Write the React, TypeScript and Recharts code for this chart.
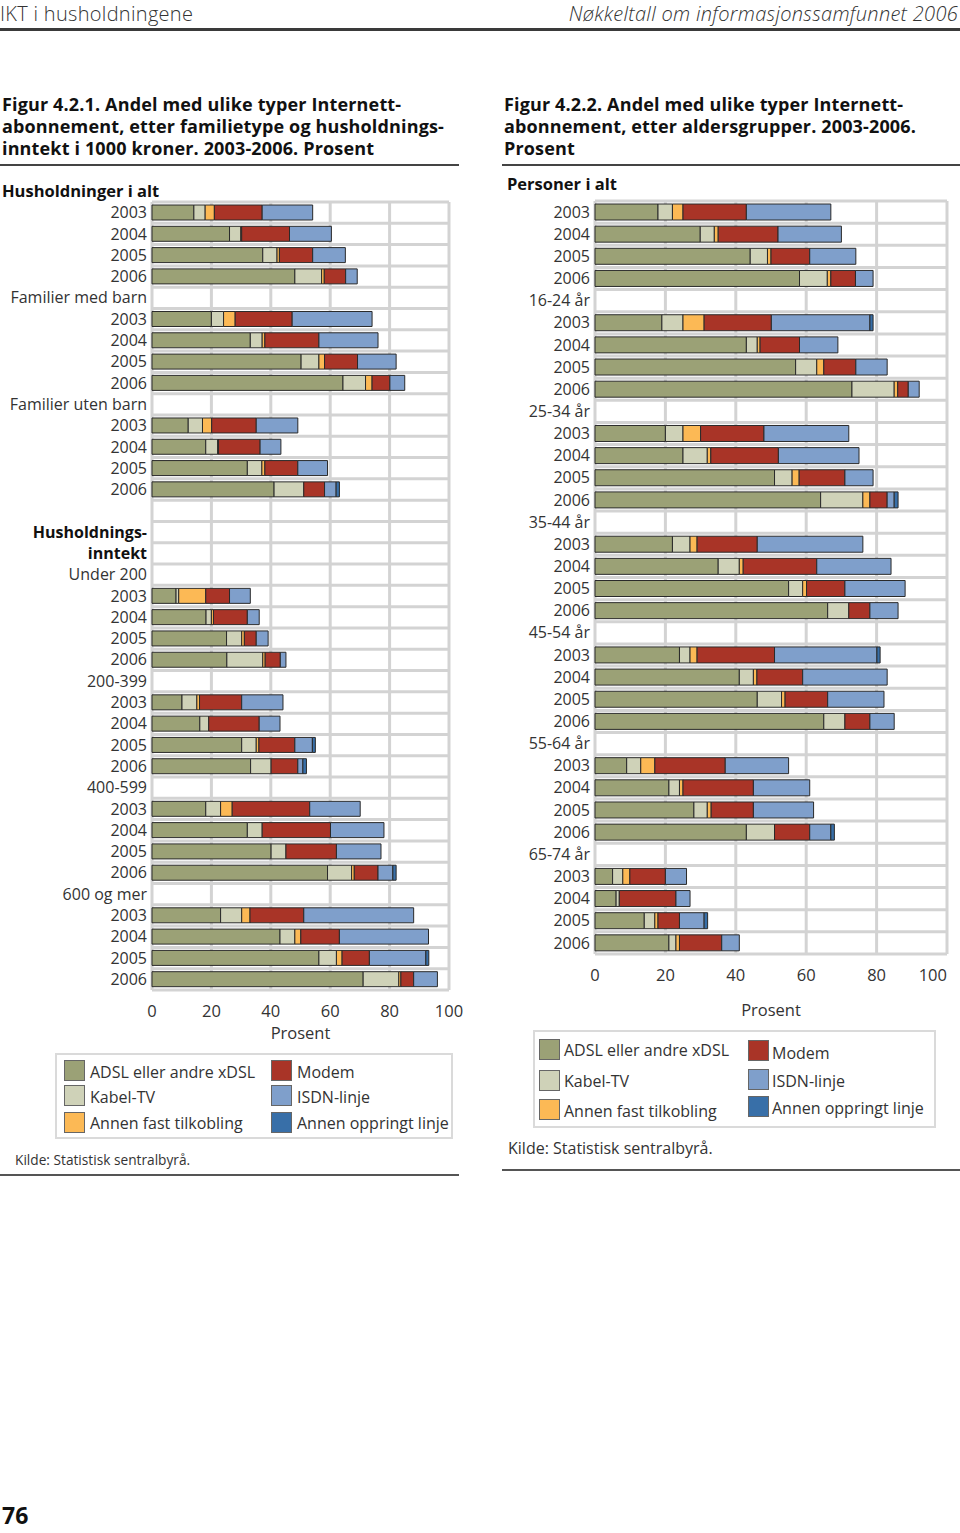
import React from 'react';
import { BarChart, Bar, XAxis, YAxis, CartesianGrid } from 'recharts';

const FONT = '"Open Sans", "Noto Sans", sans-serif';
const TEXT = '#333';

// series colours
const COLORS = {
  adsl: '#9ba176',
  kabel: '#cfd2b8',
  annenFast: '#fcb955',
  modem: '#a93427',
  isdn: '#7f9fcb',
  oppringt: '#386fa8',
};

const SERIES = [
  { key: 'adsl', name: 'ADSL eller andre xDSL' },
  { key: 'kabel', name: 'Kabel-TV' },
  { key: 'annenFast', name: 'Annen fast tilkobling' },
  { key: 'modem', name: 'Modem' },
  { key: 'isdn', name: 'ISDN-linje' },
  { key: 'oppringt', name: 'Annen oppringt linje' },
];

const xTicks = [0, 20, 40, 60, 80, 100];

// ---- Figur 4.2.1: familietype og husholdningsinntekt ----
const leftLabels = [
  '2003', '2004', '2005', '2006',
  'Familier med barn', '2003', '2004', '2005', '2006',
  'Familier uten barn', '2003', '2004', '2005', '2006',
  '', 'Husholdnings-', 'inntekt',
  'Under 200', '2003', '2004', '2005', '2006',
  '200-399', '2003', '2004', '2005', '2006',
  '400-599', '2003', '2004', '2005', '2006',
  '600 og mer', '2003', '2004', '2005', '2006',
];
const leftBold = ['Husholdnings-', 'inntekt'];

const leftAdsl = [14.1, 26.1, 37.3, 48.1, null, 20.0, 33.1, 50.2, 64.3, null, 12.2, 18.1, 32.1, 41.1, null, null, null, null, 8.1, 18.2, 25.1, 25.2, null, 10.1, 16.1, 30.2, 33.2, null, 18.1, 32.1, 40.1, 59.1, null, 23.1, 43.1, 56.2, 71.1];
const leftKabel = [3.8, 3.8, 4.8, 9.0, null, 4.1, 4.0, 6.0, 7.6, null, 4.8, 4.0, 4.9, 10.0, null, null, null, null, 0.9, 1.8, 5.1, 12.1, null, 5.0, 3.0, 4.9, 6.9, null, 5.0, 5.0, 5.0, 8.1, null, 7.1, 5.0, 5.9, 12.0];
const leftAnnenFast = [3.1, 0.3, 0.8, 0.9, null, 3.9, 0.9, 1.9, 2.2, null, 3.1, 0.3, 1.0, 0, null, null, null, null, 9.1, 0.7, 0.9, 0.8, null, 0.9, 0, 0.9, 0, null, 3.9, 0, 0, 0.9, null, 2.8, 2.0, 1.9, 0.7];
const leftModem = [16.1, 16.1, 11.2, 7.2, null, 19.2, 18.2, 11.1, 6.0, null, 15.0, 14.0, 11.1, 7.0, null, null, null, null, 8.0, 11.4, 4.0, 5.1, null, 14.2, 17.0, 12.1, 9.0, null, 26.1, 23.0, 17.0, 8.0, null, 18.1, 13.0, 9.2, 4.3];
const leftIsdn = [17.0, 14.1, 11.0, 3.9, null, 26.9, 19.9, 13.0, 5.0, null, 14.0, 7.0, 10.0, 3.9, null, null, null, null, 7.0, 4.0, 4.0, 1.9, null, 13.9, 7.0, 5.9, 1.7, null, 17.0, 18.0, 15.0, 5.0, null, 37.0, 30.0, 19.0, 8.0];
const leftOppringt = [0, 0, 0, 0, null, 0, 0, 0, 0, null, 0, 0, 0, 1.1, null, null, null, null, 0, 0, 0, 0, null, 0, 0, 1.0, 1.2, null, 0, 0, 0, 1.1, null, 0, 0, 1.0, 0];

// ---- Figur 4.2.2: aldersgrupper ----
const rightLabels = [
  '2003', '2004', '2005', '2006',
  '16-24 år', '2003', '2004', '2005', '2006',
  '25-34 år', '2003', '2004', '2005', '2006',
  '35-44 år', '2003', '2004', '2005', '2006',
  '45-54 år', '2003', '2004', '2005', '2006',
  '55-64 år', '2003', '2004', '2005', '2006',
  '65-74 år', '2003', '2004', '2005', '2006',
];

const rightAdsl = [17.9, 29.9, 44.1, 58.1, null, 19.0, 43.0, 57.0, 73.0, null, 20.0, 25.0, 51.0, 64.1, null, 22.0, 35.0, 55.0, 66.1, null, 24.0, 41.0, 46.1, 65.0, null, 9.0, 21.0, 28.1, 43.0, null, 5.0, 6.0, 14.0, 21.0];
const rightKabel = [4.1, 4.0, 4.9, 7.9, null, 6.0, 3.1, 6.0, 12.0, null, 5.0, 6.9, 5.0, 12.0, null, 5.0, 6.0, 4.0, 6.0, null, 3.0, 4.0, 6.9, 6.0, null, 4.0, 3.0, 3.8, 8.0, null, 2.9, 0.9, 3.0, 2.0];
const rightAnnenFast = [3.0, 1.1, 1.0, 1.0, null, 6.0, 0.8, 2.0, 1.0, null, 5.0, 1.0, 2.0, 2.0, null, 2.0, 1.1, 1.1, 0, null, 2.0, 1.0, 1.0, 0, null, 4.0, 1.0, 1.1, 0, null, 2.0, 0, 0.9, 1.0];
const rightModem = [18.0, 17.0, 11.0, 7.0, null, 19.1, 11.2, 9.1, 3.0, null, 18.0, 19.2, 13.0, 4.9, null, 17.1, 20.9, 10.9, 6.0, null, 22.0, 13.0, 12.1, 7.1, null, 20.0, 20.0, 12.0, 10.0, null, 10.1, 16.1, 6.1, 12.0];
const rightIsdn = [24.0, 18.0, 13.1, 5.0, null, 28.0, 10.9, 8.9, 3.1, null, 24.1, 22.9, 8.0, 2.0, null, 30.0, 21.1, 17.1, 8.0, null, 29.1, 24.0, 16.0, 6.9, null, 18.0, 16.0, 17.1, 6.0, null, 6.0, 4.0, 7.0, 5.0];
const rightOppringt = [0, 0, 0, 0, null, 0.9, 0, 0, 0, null, 0, 0, 0, 1.1, null, 0, 0, 0, 0, null, 0.9, 0, 0, 0, null, 0, 0, 0, 1.0, null, 0, 0, 1.0, 0];

function buildRows(labels, adsl, kabel, annenFast, modem, isdn, oppringt) {
  return labels.map((label, i) => ({
    key: i,
    label,
    adsl: adsl[i],
    kabel: kabel[i],
    annenFast: annenFast[i],
    modem: modem[i],
    isdn: isdn[i],
    oppringt: oppringt[i],
  }));
}

const leftRows = buildRows(leftLabels, leftAdsl, leftKabel, leftAnnenFast, leftModem, leftIsdn, leftOppringt);
const rightRows = buildRows(rightLabels, rightAdsl, rightKabel, rightAnnenFast, rightModem, rightIsdn, rightOppringt);

function StackedPanel({ rows, labels, bold = [], width, height, yWidth, barSize, marginRight, axisHeight, labelOffset, endLastTick }) {
  const n = rows.length;

  const YTick = ({ x, y, payload }) => {
    const label = labels[payload.value];
    const isBold = bold.includes(label);
    return (
      <text x={x + 5} y={y} dy="0.35em" textAnchor="end" fontFamily={FONT} fontSize={16}
        fontWeight={isBold ? 700 : 400} fill={isBold ? '#111' : TEXT}>
        {label}
      </text>
    );
  };

  const XTick = ({ x, y, payload }) => {
    const last = endLastTick && payload.value === 100;
    return (
      <text x={x} y={y} dy="0.71em" textAnchor={last ? 'end' : 'middle'}
        fontFamily={FONT} fontSize={16.5} fill={TEXT}>
        {payload.value}
      </text>
    );
  };

  return (
    <BarChart width={width} height={height} data={rows} layout="vertical"
      margin={{ top: 5, right: marginRight, bottom: 0, left: 0 }} barCategoryGap={0}>
      <CartesianGrid stroke="#d3d3d3" strokeWidth={3}
        horizontalCoordinatesGenerator={({ offset }) =>
          Array.from({ length: n + 1 }, (_, i) => offset.top + (i * offset.height) / n)
        }
      />
      <XAxis type="number" domain={[0, 100]} ticks={xTicks} axisLine={false} tickLine={false}
        tickMargin={9} height={axisHeight} tick={<XTick />} interval={0}
        label={{ value: 'Prosent', position: 'insideBottom', offset: labelOffset, fill: TEXT, fontSize: 16.5, fontFamily: FONT }} />
      <YAxis type="category" dataKey="key" width={yWidth} axisLine={false} tickLine={false}
        tick={<YTick />} interval={0} tickMargin={4} />
      {SERIES.map((s) => (
        <Bar key={s.key} dataKey={s.key} name={s.name} stackId="a" fill={COLORS[s.key]}
          stroke="#2a2a2a" strokeWidth={1} barSize={barSize} isAnimationActive={false} />
      ))}
    </BarChart>
  );
}

function LegendBox({ left, top, width, height, rowsY, textX, swatchX, swatchY }) {
  const cols = [SERIES.slice(0, 3), SERIES.slice(3)];
  return (
    <div style={{ position: 'absolute', left, top, width, height, border: '2px solid #dadada', boxSizing: 'border-box' }}>
      {cols.map((col, ci) =>
        col.map((s, ri) => (
          <React.Fragment key={s.key}>
            <div style={{
              position: 'absolute', left: swatchX[ci], top: swatchY[ci][ri], width: 21, height: 21,
              background: COLORS[s.key], border: '1px solid #666', boxSizing: 'border-box',
            }} />
            <div style={{
              position: 'absolute', left: textX[ci], top: rowsY[ci][ri] - 12, fontFamily: FONT,
              fontSize: 16, lineHeight: '24px', color: TEXT, whiteSpace: 'nowrap',
            }}>{s.name}</div>
          </React.Fragment>
        ))
      )}
    </div>
  );
}

const titleStyle: React.CSSProperties = {
  position: 'absolute', fontFamily: FONT, fontWeight: 700, fontSize: 18, lineHeight: '22px',
  color: '#111', whiteSpace: 'nowrap', letterSpacing: 0.15,
};

const headerStyle: React.CSSProperties = {
  position: 'absolute', top: 0, fontSize: 20, lineHeight: '27px', color: TEXT, fontWeight: 300, whiteSpace: 'nowrap',
};

export default function App() {
  return (
    <div style={{ position: 'absolute', left: 0, top: 0, width: 960, height: 1533, background: '#fff', fontFamily: FONT, overflow: 'hidden' }}>
      {/* running header */}
      <div style={{ ...headerStyle, left: 0, letterSpacing: 0.3 }}>IKT i husholdningene</div>
      <div style={{ ...headerStyle, right: 2, fontStyle: 'italic', letterSpacing: 0.3 }}>
        Nøkkeltall om informasjonssamfunnet 2006
      </div>
      <div style={{ position: 'absolute', left: 0, top: 28, width: 960, height: 3, background: '#3a3a3a' }} />

      {/* left figure */}
      <div style={{ ...titleStyle, left: 2, top: 93 }}>
        Figur 4.2.1. Andel med ulike typer Internett-<br />
        abonnement, etter familietype og husholdnings-<br />
        inntekt i 1000 kroner. 2003-2006. Prosent
      </div>
      <div style={{ position: 'absolute', left: 0, top: 164, width: 459, height: 2, background: '#444' }} />
      <div style={{ position: 'absolute', left: 2, top: 179, fontSize: 16.5, fontWeight: 700, color: '#111' }}>Husholdninger i alt</div>
      <div style={{ position: 'absolute', left: 0, top: 197 }}>
        <StackedPanel rows={leftRows} labels={leftLabels} bold={leftBold} width={480} height={848}
          yWidth={152} barSize={15} marginRight={31} axisHeight={55} labelOffset={6} endLastTick={false} />
      </div>
      <LegendBox left={55} top={1053} width={398} height={86}
        swatchX={[7, 214]} textX={[33, 240]}
        swatchY={[[5, 30, 57], [5, 30, 57]]}
        rowsY={[[17, 42, 68], [17, 42, 68]]} />
      <div style={{ position: 'absolute', left: 15, top: 1150, fontSize: 13.7, color: TEXT }}>Kilde: Statistisk sentralbyrå.</div>
      <div style={{ position: 'absolute', left: 0, top: 1174, width: 459, height: 2, background: '#555' }} />

      {/* right figure */}
      <div style={{ ...titleStyle, left: 504, top: 93 }}>
        Figur 4.2.2. Andel med ulike typer Internett-<br />
        abonnement, etter aldersgrupper. 2003-2006.<br />
        Prosent
      </div>
      <div style={{ position: 'absolute', left: 502, top: 164, width: 458, height: 2, background: '#444' }} />
      <div style={{ position: 'absolute', left: 507, top: 172, fontSize: 16.5, fontWeight: 700, color: '#111' }}>Personer i alt</div>
      <div style={{ position: 'absolute', left: 500, top: 196 }}>
        <StackedPanel rows={rightRows} labels={rightLabels} width={460} height={828}
          yWidth={95} barSize={16} marginRight={13} axisHeight={70} labelOffset={8} endLastTick={true} />
      </div>
      <LegendBox left={533} top={1030} width={403} height={98}
        swatchX={[4, 213]} textX={[29, 237]}
        swatchY={[[7, 38, 67], [8, 37, 64]]}
        rowsY={[[18, 49, 79], [21, 49, 76]]} />
      <div style={{ position: 'absolute', left: 508, top: 1137, fontSize: 16, color: TEXT }}>Kilde: Statistisk sentralbyrå.</div>
      <div style={{ position: 'absolute', left: 502, top: 1169, width: 458, height: 2, background: '#555' }} />

      <div style={{ position: 'absolute', left: 2, top: 1502, fontSize: 23, lineHeight: '26px', fontWeight: 700, color: '#111' }}>76</div>
    </div>
  );
}
